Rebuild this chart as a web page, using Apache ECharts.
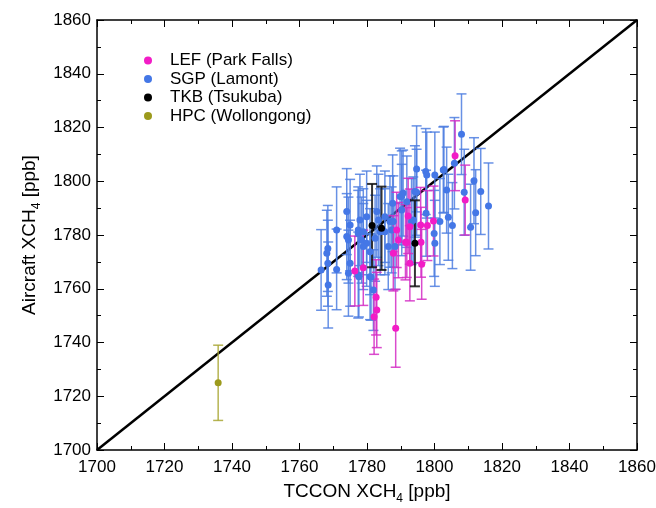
<!DOCTYPE html>
<html><head><meta charset="utf-8">
<script src="https://cdn.jsdelivr.net/npm/echarts@6/dist/echarts.min.js"></script>
<style>html,body{margin:0;padding:0;background:#fff}#c{width:656px;height:508px}</style>
</head><body><div id="c"></div>
<script>
// Axis ticks
const xTicks = [1700,1720,1740,1760,1780,1800,1820,1840,1860];
const yTicks = [1700,1720,1740,1760,1780,1800,1820,1840,1860];
const seriesNames = ['LEF (Park Falls)','SGP (Lamont)','TKB (Tsukuba)','HPC (Wollongong)'];
// [TCCON, Aircraft, error]
const lefData = [
 [1776.4,1766.6,13],[1778.9,1767.8,14],[1782.7,1756.8,14],[1782.9,1752.1,14],
 [1782.1,1749.6,14],[1788.5,1745.3,14.5],[1787.8,1773.2,14],[1789.3,1778.1,14],
 [1791.4,1777.3,14],[1792.2,1787.1,14],[1792.7,1783.1,14],[1792.7,1769.5,14],
 [1788.8,1781.9,14],[1795.9,1783.7,14],[1797.9,1783.5,13],[1799.7,1785.2,13],
 [1796.0,1777.3,13],[1796.2,1769.1,13],[1791.8,1777.2,13],[1806.1,1809.5,13],
 [1809.1,1793.0,13]
];
const sgpData = [
 [1766.4,1767.0,15],[1768.4,1775.0,16],[1768.1,1773.2,16],[1768.4,1769.5,16],
 [1768.5,1761.4,16],[1771.0,1767.2,15],[1775.0,1769.5,16],[1774.5,1765.8,16],
 [1774.5,1778.1,16],[1775.0,1783.7,17],[1777.4,1765.1,16],[1778.4,1778.1,16],
 [1779.9,1776.9,16],[1781.2,1764.3,16],[1785.3,1781.2,16],[1786.8,1785.0,17],
 [1777.6,1764.5,15],[1780.9,1764.5,16],[1781.9,1759.5,15],[1774.0,1788.7,16],
 [1774.0,1779.4,16],[1777.4,1781.9,16],[1782.9,1788.7,17],[1783.4,1785.6,17],
 [1787.6,1791.8,18],[1789.8,1794.3,18],[1786.3,1775.7,16],[1788.3,1775.7,16],
 [1794.2,1796.2,17],[1794.7,1804.6,16],[1790.3,1794.3,17],[1797.4,1803.6,16],
 [1797.7,1802.3,16],[1800.1,1802.3,16],[1802.6,1804.2,16],[1805.9,1806.7,17],
 [1803.6,1796.7,16],[1808.8,1795.9,16],[1811.7,1800.2,16],[1813.7,1796.2,16],
 [1816.0,1790.8,16],[1812.2,1788.3,16],[1810.7,1782.9,16],[1805.3,1783.5,16],
 [1804.1,1786.6,16],[1801.6,1785.0,16],[1799.9,1780.6,16],[1794.7,1795.9,16],
 [1793.2,1785.0,16],[1797.5,1788.1,16],[1808.0,1817.5,15],[1802.8,1804.4,16],
 [1800.1,1776.9,16],[1777.9,1785.6,17],[1779.9,1786.8,17],[1783.9,1781.2,16],
 [1785.3,1786.8,17],[1782.4,1778.8,16],[1787.8,1785.0,17],[1790.3,1789.3,17],
 [1791.8,1792.4,17],[1793.7,1785.6,16],[1778.9,1775.7,16],[1780.9,1773.8,16],
 [1787.3,1781.9,16],[1777.4,1780.6,16],[1778.9,1781.2,16],[1771.0,1781.9,16],
 [1790.7,1795.6,16]
];
const tkbData = [[1781.5,1783.5,15.5],[1784.3,1782.5,15.5],[1794.2,1776.9,16]];
const hpcData = [[1735.9,1725.0,14]];
const oneToOne = [[1700,1700],[1860,1860]];

const colors = {
  lef: '#f21cc6', lefBar: '#d42cc4',
  sgp: '#4477e6', sgpBar: '#4d7ee0',
  tkb: '#000000', tkbBar: '#111111',
  hpc: '#9c9a1c', hpcBar: '#a8a632'
};

function errBar(name, data, color, width) {
  return {
    type: 'custom', name: name + ' err', data: data, z: 3,
    renderItem: function (params, api) {
      const x = api.value(0), y = api.value(1), e = api.value(2);
      const lo = api.coord([x, y - e]), hi = api.coord([x, y + e]);
      const cw = 5;
      const st = { stroke: color, lineWidth: width, opacity: 0.85 };
      return { type: 'group', children: [
        { type: 'line', shape: { x1: lo[0], y1: lo[1], x2: hi[0], y2: hi[1] }, style: st },
        { type: 'line', shape: { x1: lo[0]-cw, y1: lo[1], x2: lo[0]+cw, y2: lo[1] }, style: st },
        { type: 'line', shape: { x1: hi[0]-cw, y1: hi[1], x2: hi[0]+cw, y2: hi[1] }, style: st }
      ]};
    },
    encode: { x: 0, y: 1 }, silent: true
  };
}
function pts(name, data, color, z) {
  return { type: 'scatter', name: name, data: data.map(d => [d[0], d[1]]),
    symbol: 'circle', symbolSize: 7, itemStyle: { color: color, opacity: 1 }, z: z };
}
const font = '"Liberation Sans", Arial, sans-serif';
const axisCommon = {
  min: 1700, max: 1860, interval: 20,
  axisLine: { show: true, onZero: false, lineStyle: { color: '#000', width: 1.5 } },
  axisTick: { show: true, inside: true, length: 7, lineStyle: { color: '#000', width: 1 } },
  minorTick: { show: true, splitNumber: 2, length: 4, lineStyle: { color: '#000', width: 1 } },
  splitLine: { show: false }
};
const titleRich = {
  a: { fontSize: 19, fontFamily: font, color: '#000' },
  s: { fontSize: 12, fontFamily: font, color: '#000', verticalAlign: 'bottom', padding: [14, 0, 0, 0] }
};
const chart = echarts.init(document.getElementById('c'), null, { renderer: 'canvas' });
chart.setOption({
  animation: false,
  backgroundColor: '#fff',
  grid: { left: 97, right: 19, top: 20, bottom: 58, containLabel: false, outerBoundsMode: 'none' },
  legend: {
    data: seriesNames.map(n => ({ name: n, icon: 'circle' })),
    orient: 'vertical', left: 144, top: 52, padding: 0, itemWidth: 8, itemHeight: 8, itemGap: 1.5,
    textStyle: { fontSize: 17, fontFamily: font, color: '#000', padding: [0, 0, 0, 13] }
  },
  xAxis: [
    Object.assign({}, axisCommon, { type: 'value', position: 'bottom',
      name: '{a|TCCON XCH}{s|4}{a| [ppb]}', nameLocation: 'middle', nameGap: 29,
      nameTextStyle: { rich: titleRich },
      axisLabel: { fontSize: 17, fontFamily: font, color: '#000', margin: 9,
        formatter: v => (xTicks.indexOf(v) >= 0 ? String(v) : '') } }),
    Object.assign({}, axisCommon, { type: 'value', position: 'top', axisLabel: { show: false } })
  ],
  yAxis: [
    Object.assign({}, axisCommon, { type: 'value', position: 'left',
      name: '{a|Aircraft XCH}{s|4}{a| [ppb]}', nameLocation: 'middle', nameGap: 54, nameRotate: 90,
      nameTextStyle: { rich: titleRich },
      axisLabel: { fontSize: 17, fontFamily: font, color: '#000', margin: 6,
        formatter: v => (yTicks.indexOf(v) >= 0 ? String(v) : '') } }),
    Object.assign({}, axisCommon, { type: 'value', position: 'right', axisLabel: { show: false } })
  ],
  series: [
    { type: 'line', name: '1:1', data: oneToOne, symbol: 'none', z: 2,
      lineStyle: { color: '#000', width: 2.5 }, silent: true },
    errBar('SGP', sgpData, colors.sgpBar, 1.5),
    errBar('LEF', lefData, colors.lefBar, 1.5),
    errBar('TKB', tkbData, colors.tkbBar, 2),
    errBar('HPC', hpcData, colors.hpcBar, 1.5),
    pts(seriesNames[1], sgpData, colors.sgp, 4),
    pts(seriesNames[0], lefData, colors.lef, 5),
    pts(seriesNames[2], tkbData, colors.tkb, 6),
    pts(seriesNames[3], hpcData, colors.hpc, 6)
  ]
});
</script></body></html>
